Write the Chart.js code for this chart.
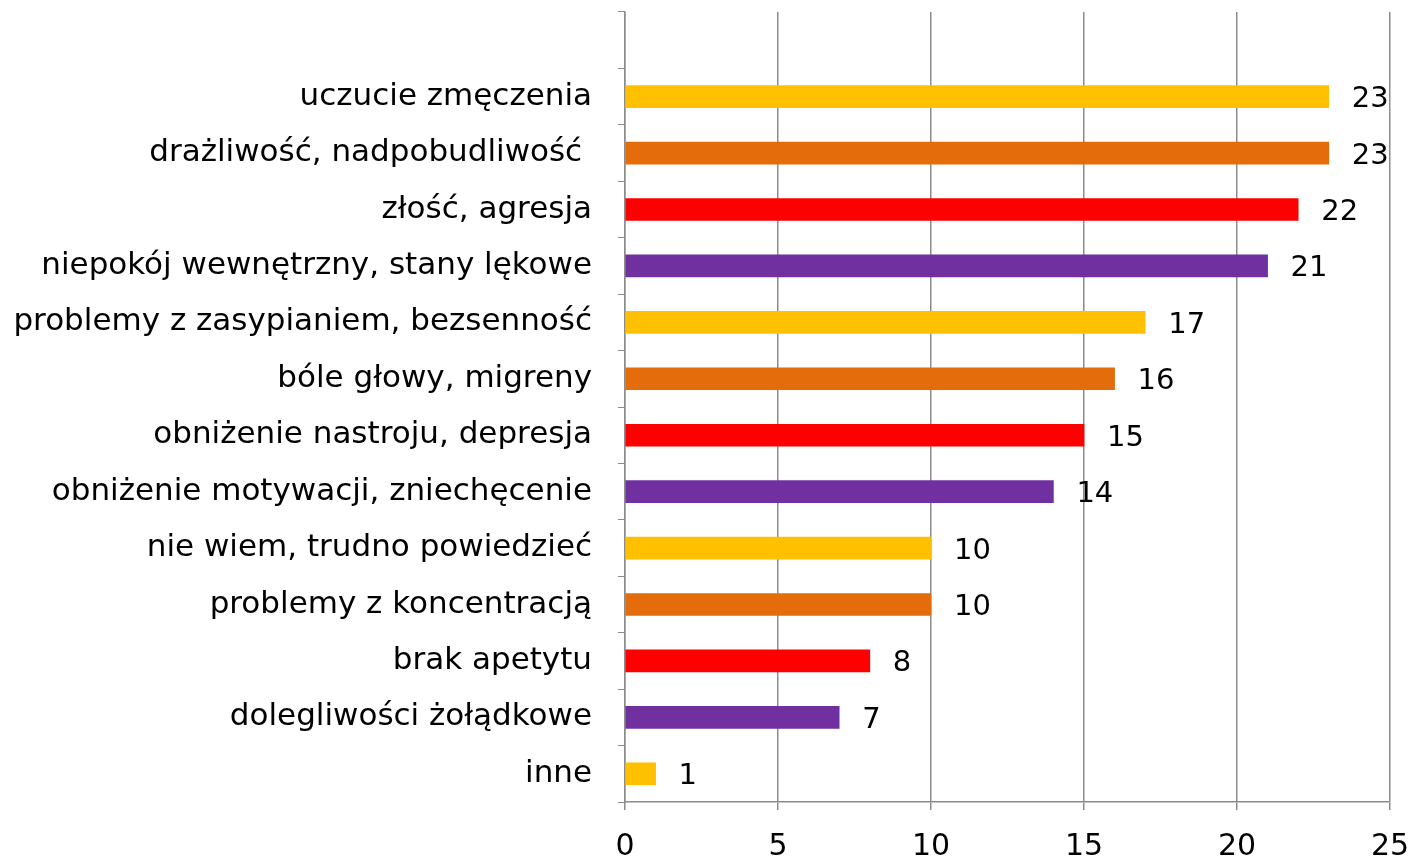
<!DOCTYPE html>
<html>
<head>
<meta charset="utf-8">
<script src="https://cdn.jsdelivr.net/npm/chart.js@4/dist/chart.umd.min.js"></script>
<style>
  body { margin: 0; background: #fff; }
</style>
</head>
<body>
<canvas id="myChart" width="1414" height="862"></canvas>
<script>
// categories from top to bottom (first slot is empty in the original)
var labels = ['', 'uczucie zmęczenia', 'drażliwość, nadpobudliwość ', 'złość, agresja',
    'niepokój wewnętrzny, stany lękowe', 'problemy z zasypianiem, bezsenność',
    'bóle głowy, migreny', 'obniżenie nastroju, depresja', 'obniżenie motywacji, zniechęcenie',
    'nie wiem, trudno powiedzieć', 'problemy z koncentracją', 'brak apetytu',
    'dolegliwości żołądkowe', 'inne'];
var values = [null, 23, 23, 22, 21, 17, 16, 15, 14, 10, 10, 8, 7, 1];
var xTicks = [0, 5, 10, 15, 20, 25];
var palette = ['#FFC000', '#E46C0A', '#FF0000', '#7030A0'];

var colors = values.map(function (v, i) {
    return palette[(i - 1 + 4) % 4];
});

var FONT = "'DejaVu Sans', sans-serif";

// draws the value to the right of each bar
var valueLabels = {
    id: 'valueLabels',
    afterDatasetsDraw: function (chart) {
        var ctx = chart.ctx;
        var meta = chart.getDatasetMeta(0);
        ctx.save();
        ctx.font = '29px ' + FONT;
        ctx.fillStyle = '#000';
        ctx.textAlign = 'left';
        ctx.textBaseline = 'middle';
        meta.data.forEach(function (bar, i) {
            var v = values[i];
            if (v === null) return;
            ctx.fillText(String(v), bar.x + 23, bar.y + 3);
        });
        ctx.restore();
    }
};

var chart = new Chart(document.getElementById('myChart').getContext('2d'), {
    type: 'bar',
    data: {
        labels: labels,
        datasets: [{
            data: values,
            backgroundColor: colors,
            barThickness: 22
        }]
    },
    options: {
        indexAxis: 'y',
        responsive: false,
        animation: false,
        layout: { padding: { top: 12, right: 24, left: 0, bottom: 0 } },
        plugins: {
            legend: { display: false },
            tooltip: { enabled: false }
        },
        scales: {
            x: {
                min: 0,
                max: 25,
                afterBuildTicks: function (scale) {
                    scale.ticks = xTicks.map(function (t) { return { value: t }; });
                },
                grid: {
                    color: '#8c8c8c',
                    lineWidth: 1.5,
                    tickLength: 8,
                    tickColor: '#8c8c8c'
                },
                border: { color: '#8c8c8c', width: 1.5 },
                ticks: {
                    color: '#000',
                    font: { family: FONT, size: 30 },
                    padding: 19,
                    maxRotation: 0
                },
                afterFit: function (scale) {
                    scale.height = 60;
                    scale.paddingLeft = 0;
                    scale.paddingRight = 0;
                }
            },
            y: {
                grid: {
                    drawOnChartArea: false,
                    offset: true,
                    tickLength: 7,
                    tickColor: '#8c8c8c'
                },
                border: { color: '#8c8c8c', width: 1.5 },
                ticks: {
                    color: '#000',
                    font: { family: FONT, size: 31 },
                    padding: 26,
                    autoSkip: false
                },
                afterFit: function (scale) {
                    scale.width = 625;
                    scale.paddingTop = 0;
                    scale.paddingBottom = 0;
                }
            }
        }
    },
    plugins: [valueLabels]
});
</script>
</body>
</html>
